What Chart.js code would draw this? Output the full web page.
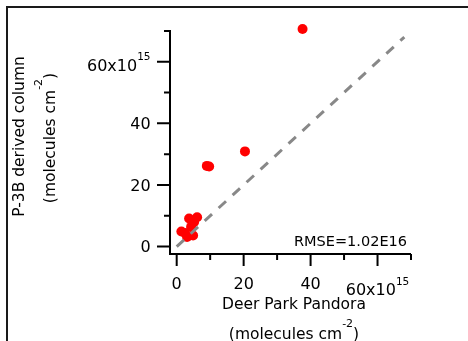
<!DOCTYPE html>
<html><head><meta charset="utf-8">
<script src="https://cdn.jsdelivr.net/npm/chart.js@4"></script>
<style>html,body{margin:0;padding:0;background:#fff;overflow:hidden}#wrap{width:468px;height:341px}</style>
</head><body><div id="wrap"><canvas id="c" width="468" height="341"></canvas></div>
<script>
// ---- data ----
const pandoraX = [3.7, 6.1, 5.2, 4.3, 1.4, 2.5, 3.1, 4.9, 9.0, 9.7, 20.4, 37.6];
const p3bY     = [9.1, 9.5, 8.0, 6.4, 4.9, 4.4, 3.1, 3.6, 26.2, 26.0, 30.9, 70.6];
const oneToOneX = [0, 68];
const oneToOneY = [0, 68];
const majorTicks = [0, 20, 40, 60];
const minorTicks = [10, 30, 50, 70];
const tickLabels = ['0', '20', '40', '60x10'];
const tickExponent = '15';
const xTitleLine1 = 'Deer Park Pandora';
const yTitleLine1 = 'P-3B derived column';
const unitBase = '(molecules cm';
const unitSup = '-2';
const unitEnd = ')';
const rmseText = 'RMSE=1.02E16';

const FONT = '"DejaVu Sans", Verdana, sans-serif';

function drawParts(ctx, parts, x, y, align) {
  let w = 0;
  parts.forEach(p => { ctx.font = p.size + 'px ' + FONT; p.w = ctx.measureText(p.t).width; w += p.w; });
  let sx = align === 'center' ? x - w / 2 : align === 'right' ? x - w : x;
  ctx.textAlign = 'left';
  ctx.textBaseline = 'alphabetic';
  parts.forEach(p => { ctx.font = p.size + 'px ' + FONT; ctx.fillText(p.t, sx, y + (p.dy || 0)); sx += p.w; });
}

const axesPlugin = {
  id: 'igorAxes',
  afterDraw(chart) {
    const ctx = chart.ctx;
    const xs = chart.scales.x, ys = chart.scales.y, ca = chart.chartArea;
    const axisX = ca.left, axisY = ca.bottom;
    ctx.save();
    // outer frame (top + left)
    ctx.strokeStyle = '#1a1a1a'; ctx.lineWidth = 2;
    ctx.beginPath(); ctx.moveTo(7, 341); ctx.lineTo(7, 7); ctx.lineTo(468, 7); ctx.stroke();
    // axis lines
    ctx.strokeStyle = '#000'; ctx.lineWidth = 2;
    ctx.beginPath();
    ctx.moveTo(axisX, ca.top); ctx.lineTo(axisX, axisY + 1);
    ctx.moveTo(axisX - 1, axisY); ctx.lineTo(ca.right, axisY);
    // ticks
    majorTicks.forEach(v => {
      const py = ys.getPixelForValue(v); ctx.moveTo(axisX - 13, py); ctx.lineTo(axisX, py);
      const px = xs.getPixelForValue(v); ctx.moveTo(px, axisY); ctx.lineTo(px, axisY + 12);
    });
    minorTicks.forEach(v => {
      const py = ys.getPixelForValue(v); ctx.moveTo(axisX - 6, py); ctx.lineTo(axisX, py);
      const px = xs.getPixelForValue(v); ctx.moveTo(px, axisY); ctx.lineTo(px, axisY + 6);
    });
    ctx.stroke();
    // tick labels
    ctx.fillStyle = '#000';
    majorTicks.forEach((v, i) => {
      const py = ys.getPixelForValue(v), px = xs.getPixelForValue(v);
      if (i === majorTicks.length - 1) {
        drawParts(ctx, [{t: tickLabels[i], size: 16}, {t: tickExponent, size: 10.5, dy: -11}], 150.5, py + 9.1, 'right');
        drawParts(ctx, [{t: tickLabels[i], size: 16}, {t: tickExponent, size: 10.5, dy: -9.5}], px, axisY + 40.8, 'center');
      } else {
        drawParts(ctx, [{t: tickLabels[i], size: 16}], 150.7, py + 5.8, 'right');
        drawParts(ctx, [{t: tickLabels[i], size: 16}], px, axisY + 35.3, 'center');
      }
    });
    // x title
    drawParts(ctx, [{t: xTitleLine1, size: 15.5}], 294, 308.5, 'center');
    drawParts(ctx, [{t: unitBase, size: 15.5}, {t: unitSup, size: 11, dy: -11.5}, {t: unitEnd, size: 15.5}], 294, 338.5, 'center');
    // y title
    ctx.save(); ctx.translate(24, 136.5); ctx.rotate(-Math.PI / 2);
    drawParts(ctx, [{t: yTitleLine1, size: 15.5}], 0, 0, 'center');
    ctx.restore();
    ctx.save(); ctx.translate(54.5, 138); ctx.rotate(-Math.PI / 2);
    drawParts(ctx, [{t: unitBase, size: 15.5}, {t: unitSup, size: 11, dy: -13}, {t: unitEnd, size: 15.5}], 0, 0, 'center');
    ctx.restore();
    // RMSE annotation
    drawParts(ctx, [{t: rmseText, size: 14.5}], 407, 246, 'right');
    ctx.restore();
  }
};

new Chart(document.getElementById('c'), {
  type: 'scatter',
  data: {
    datasets: [
      {
        label: '1:1',
        data: oneToOneX.map((x, i) => ({x, y: oneToOneY[i]})),
        showLine: true, fill: false,
        borderColor: '#888888', borderWidth: 3, borderDash: [10, 9], borderCapStyle: 'butt',
        pointRadius: 0, order: 0
      },
      {
        label: 'P-3B vs Pandora',
        data: pandoraX.map((x, i) => ({x, y: p3bY[i]})),
        backgroundColor: '#ff0000', borderColor: '#ff0000', borderWidth: 0,
        pointRadius: 5, clip: false, order: 1
      }
    ]
  },
  options: {
    responsive: false, animation: false, devicePixelRatio: 1,
    layout: {padding: {left: 170, right: 57, top: 30, bottom: 87}},
    plugins: {legend: {display: false}, tooltip: {enabled: false}},
    scales: {
      x: {type: 'linear', min: -2, max: 70, display: false},
      y: {type: 'linear', min: -2.4, max: 70.3, display: false}
    }
  },
  plugins: [axesPlugin]
});
</script>
</body></html>
